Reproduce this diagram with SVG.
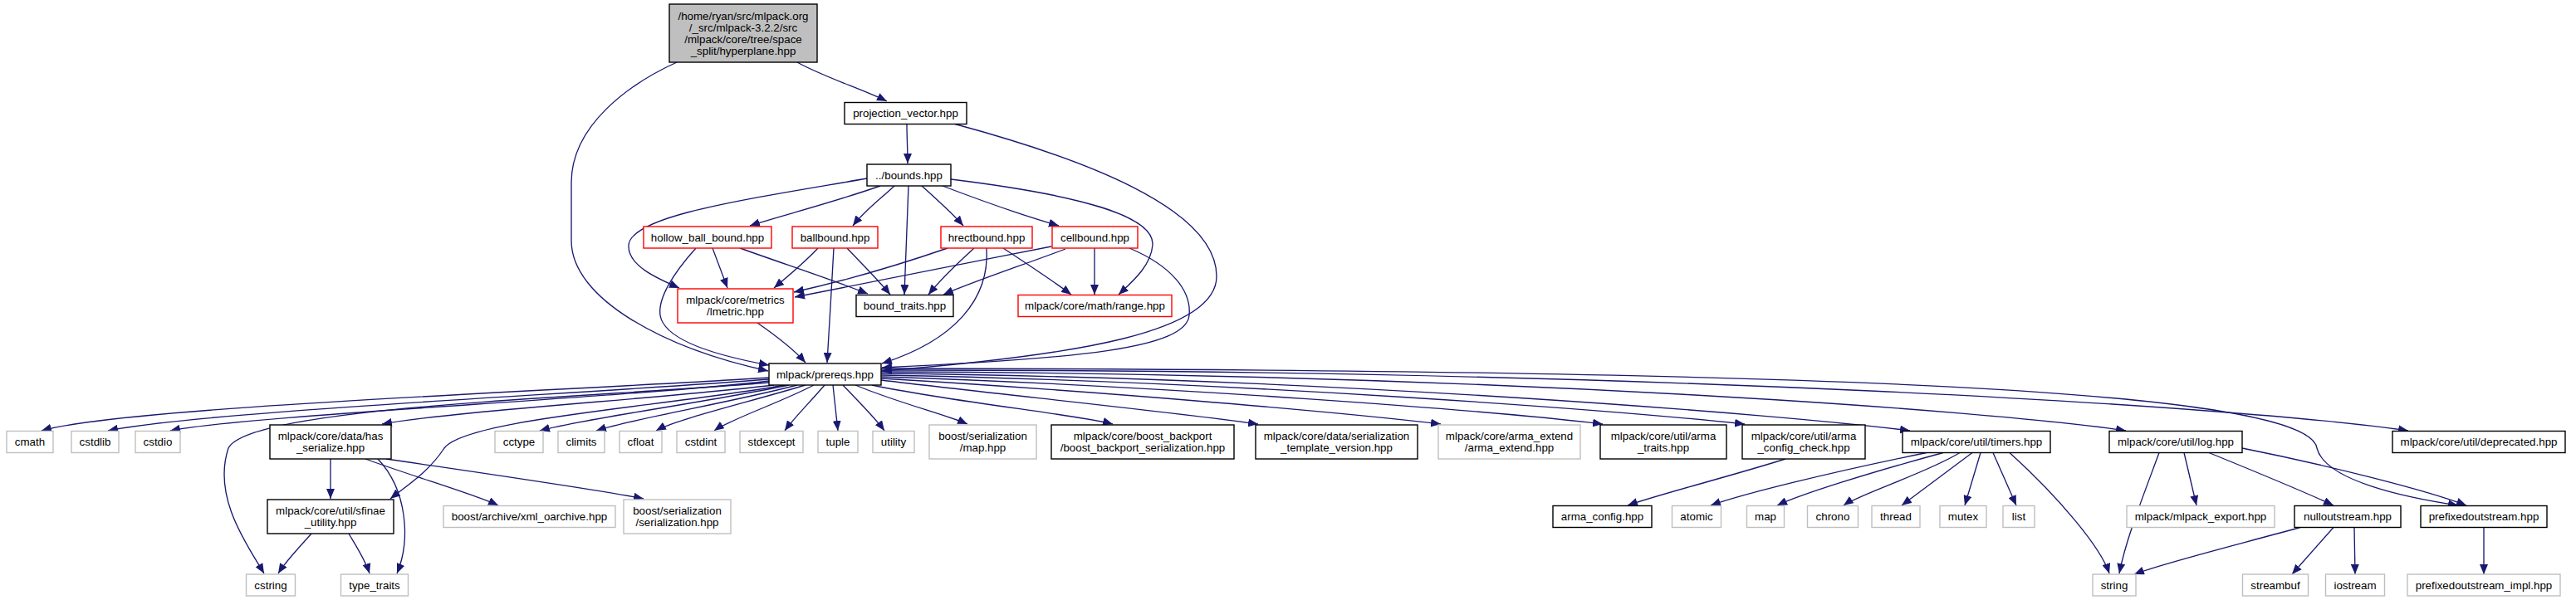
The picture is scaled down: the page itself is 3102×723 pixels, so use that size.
<svg xmlns="http://www.w3.org/2000/svg" width="3102" height="723" viewBox="0 0 3102 723">
<defs>
<style>
rect{fill:#fff;stroke-width:1.4}
.blk rect{stroke:#000}
.red rect{stroke:#ff0000}
.gry rect{stroke:#bfbfbf}
.root rect{fill:#bfbfbf;stroke:#000}
text{font-family:"Liberation Sans",Arial,Helvetica,sans-serif;font-size:13.33px;text-anchor:middle;fill:#000}
.e path{fill:none;stroke:#191970;stroke-width:1.33;marker-end:url(#ah)}
</style>
<marker id="ah" markerUnits="userSpaceOnUse" markerWidth="13" markerHeight="10" refX="12" refY="5" orient="auto"><path d="M0,0 L12,5 L0,10 z" fill="#191970"/></marker>
</defs>
<rect x="0" y="0" width="3102" height="723" style="fill:#fff;stroke:none"/>
<g class="e" id="edges">
<path d="M960,75 C990,92 1040,108 1068,122"/>
<path d="M815,75 C760,100 688,150 688,220 L688,290 C688,360 800,420 925,447"/>
<path d="M1092,149.5 C1092,165 1093,180 1093,197"/>
<path d="M1150,149.5 C1300,190 1465,250 1465,333 C1465,400 1300,428 1062,447"/>
<path d="M1060,224 C1000,245 940,260 903,272"/>
<path d="M1077,224 C1060,240 1040,255 1027,272"/>
<path d="M1094,224 L1089,355"/>
<path d="M1110,224 C1130,242 1148,258 1160,272"/>
<path d="M1135,224 C1190,245 1240,262 1275,272"/>
<path d="M1044,215 C900,240 755,260 757,297 C757,320 790,335 818,347"/>
<path d="M1145,216 C1300,235 1390,260 1388,295 C1386,320 1365,338 1347,355"/>
<path d="M838,299 C810,330 792,360 795,380 C800,410 860,428 926,440"/>
<path d="M858,299 L876,347"/>
<path d="M891,299 C950,320 1010,340 1045,354"/>
<path d="M985,299 C970,315 950,332 932,347"/>
<path d="M1004,299 C1002,340 998,400 996,437"/>
<path d="M1020,299 C1040,320 1060,340 1072,355"/>
<path d="M1141,299 C1080,320 1010,340 956,352"/>
<path d="M1173,299 C1150,320 1130,340 1118,355"/>
<path d="M1188,299 C1192,360 1150,410 1062,438"/>
<path d="M1208,299 C1240,320 1270,340 1290,355"/>
<path d="M1266,297 C1150,320 1020,345 957,358"/>
<path d="M1283,300 C1230,320 1170,340 1136,355"/>
<path d="M1318,299 L1318,355"/>
<path d="M1360,299 C1410,320 1435,350 1432,380 C1428,420 1300,432 1062,443"/>
<path d="M912,389 C935,405 955,420 970,437"/>
<path d="M926,455 C700,470 150,490 50,519"/>
<path d="M926,457 C700,475 250,495 130,519"/>
<path d="M926,459 C750,480 300,500 205,519"/>
<path d="M926,461 C700,480 300,490 275,540 C255,600 300,660 318,691"/>
<path d="M932,464 C800,480 550,495 460,511"/>
<path d="M945,464 C800,490 560,505 535,540 C515,570 490,585 470,601"/>
<path d="M950,464 C850,485 700,505 650,519"/>
<path d="M960,464 C880,485 760,505 718,519"/>
<path d="M970,464 C900,485 815,505 790,519"/>
<path d="M980,464 C940,485 880,505 860,519"/>
<path d="M993,464 C975,485 955,505 945,519"/>
<path d="M1003,464 L1009,519"/>
<path d="M1015,464 C1035,485 1055,505 1065,519"/>
<path d="M1030,464 C1080,485 1140,500 1165,511"/>
<path d="M1050,464 C1150,485 1300,500 1340,511"/>
<path d="M1061,458 C1200,475 1400,495 1515,511"/>
<path d="M1061,456 C1300,470 1600,495 1735,511"/>
<path d="M1061,454 C1400,465 1800,495 1930,511"/>
<path d="M1061,452 C1500,460 1950,495 2101,511"/>
<path d="M1061,450 C1600,455 2150,500 2300,519"/>
<path d="M1061,448 C1800,450 2400,495 2560,519"/>
<path d="M1061,446 C2000,445 2700,490 2900,519"/>
<path d="M1061,444 C2200,445 2780,470 2790,540 C2800,580 2900,600 2960,609"/>
<path d="M398,553 L398,601"/>
<path d="M440,553 C500,575 570,595 600,609"/>
<path d="M465,553 C580,570 720,590 775,601"/>
<path d="M455,553 C490,590 495,650 478,691"/>
<path d="M375,643 C360,660 345,675 335,691"/>
<path d="M420,643 C430,660 440,675 445,691"/>
<path d="M2150,553 C2080,575 2000,595 1960,609"/>
<path d="M2320,545.5 C2200,570 2100,595 2060,609"/>
<path d="M2340,545.5 C2250,570 2170,595 2140,609"/>
<path d="M2360,545.5 C2320,570 2240,595 2220,609"/>
<path d="M2375,545.5 L2290,609"/>
<path d="M2385,545.5 L2366,609"/>
<path d="M2400,545.5 L2428,609"/>
<path d="M2420,545.5 C2480,600 2530,660 2540,691"/>
<path d="M2600,545.5 C2580,600 2560,650 2552,691"/>
<path d="M2630,545.5 L2645,609"/>
<path d="M2660,545.5 C2720,570 2780,595 2810,609"/>
<path d="M2700,540 C2800,560 2920,590 2970,609"/>
<path d="M2770,635.5 C2680,660 2600,680 2570,692"/>
<path d="M2810,635.5 L2760,692"/>
<path d="M2835,635.5 L2836,692"/>
<path d="M2991,635.5 L2991,692"/>
</g>
<g id="n_root" class="root"><rect x="806" y="5" width="178" height="70"/><text x="895" y="23.5">/home/ryan/src/mlpack.org</text><text x="895" y="37.5">/_src/mlpack-3.2.2/src</text><text x="895" y="51.5">/mlpack/core/tree/space</text><text x="895" y="65.5">_split/hyperplane.hpp</text></g>
<g id="n_projection_vector" class="blk"><rect x="1017" y="123.5" width="147" height="26"/><text x="1090.5" y="141">projection_vector.hpp</text></g>
<g id="n_bounds" class="blk"><rect x="1044" y="198" width="101" height="26"/><text x="1094.5" y="215.5">../bounds.hpp</text></g>
<g id="n_hollow" class="red"><rect x="775" y="273" width="154" height="26"/><text x="852" y="290.5">hollow_ball_bound.hpp</text></g>
<g id="n_ballbound" class="red"><rect x="954" y="273" width="103" height="26"/><text x="1005.5" y="290.5">ballbound.hpp</text></g>
<g id="n_hrect" class="red"><rect x="1133" y="273" width="110" height="26"/><text x="1188" y="290.5">hrectbound.hpp</text></g>
<g id="n_cellbound" class="red"><rect x="1267" y="273" width="103" height="26"/><text x="1318.5" y="290.5">cellbound.hpp</text></g>
<g id="n_lmetric" class="red"><rect x="816" y="348" width="139" height="41"/><text x="885.5" y="366">mlpack/core/metrics</text><text x="885.5" y="380">/lmetric.hpp</text></g>
<g id="n_bound_traits" class="blk"><rect x="1031" y="355.5" width="117" height="26"/><text x="1089.5" y="373">bound_traits.hpp</text></g>
<g id="n_range" class="red"><rect x="1226" y="355.5" width="185" height="26"/><text x="1318.5" y="373">mlpack/core/math/range.hpp</text></g>
<g id="n_prereqs" class="blk"><rect x="926" y="438" width="135" height="26"/><text x="993.5" y="455.5">mlpack/prereqs.hpp</text></g>
<g id="n_cmath" class="gry"><rect x="8" y="519.5" width="56" height="26"/><text x="36" y="537">cmath</text></g>
<g id="n_cstdlib" class="gry"><rect x="86" y="519.5" width="57" height="26"/><text x="114.5" y="537">cstdlib</text></g>
<g id="n_cstdio" class="gry"><rect x="163" y="519.5" width="54" height="26"/><text x="190" y="537">cstdio</text></g>
<g id="n_has_serialize" class="blk"><rect x="325" y="512" width="146" height="41"/><text x="398" y="530">mlpack/core/data/has</text><text x="398" y="544">_serialize.hpp</text></g>
<g id="n_cctype" class="gry"><rect x="596" y="519.5" width="58" height="26"/><text x="625" y="537">cctype</text></g>
<g id="n_climits" class="gry"><rect x="672" y="519.5" width="56" height="26"/><text x="700" y="537">climits</text></g>
<g id="n_cfloat" class="gry"><rect x="746" y="519.5" width="51" height="26"/><text x="771.5" y="537">cfloat</text></g>
<g id="n_cstdint" class="gry"><rect x="815" y="519.5" width="58" height="26"/><text x="844" y="537">cstdint</text></g>
<g id="n_stdexcept" class="gry"><rect x="891" y="519.5" width="76" height="26"/><text x="929" y="537">stdexcept</text></g>
<g id="n_tuple" class="gry"><rect x="985" y="519.5" width="48" height="26"/><text x="1009" y="537">tuple</text></g>
<g id="n_utility" class="gry"><rect x="1051" y="519.5" width="50" height="26"/><text x="1076" y="537">utility</text></g>
<g id="n_ser_map" class="gry"><rect x="1119" y="512" width="129" height="41"/><text x="1183.5" y="530">boost/serialization</text><text x="1183.5" y="544">/map.hpp</text></g>
<g id="n_backport" class="blk"><rect x="1266" y="512" width="220" height="41"/><text x="1376" y="530">mlpack/core/boost_backport</text><text x="1376" y="544">/boost_backport_serialization.hpp</text></g>
<g id="n_ser_tmpl" class="blk"><rect x="1512" y="512" width="195" height="41"/><text x="1609.5" y="530">mlpack/core/data/serialization</text><text x="1609.5" y="544">_template_version.hpp</text></g>
<g id="n_arma_extend" class="gry"><rect x="1732" y="512" width="171" height="41"/><text x="1817.5" y="530">mlpack/core/arma_extend</text><text x="1817.5" y="544">/arma_extend.hpp</text></g>
<g id="n_arma_traits" class="blk"><rect x="1927" y="512" width="152" height="41"/><text x="2003" y="530">mlpack/core/util/arma</text><text x="2003" y="544">_traits.hpp</text></g>
<g id="n_cfg_check" class="blk"><rect x="2098" y="512" width="148" height="41"/><text x="2172" y="530">mlpack/core/util/arma</text><text x="2172" y="544">_config_check.hpp</text></g>
<g id="n_timers" class="blk"><rect x="2291" y="519.5" width="178" height="26"/><text x="2380" y="537">mlpack/core/util/timers.hpp</text></g>
<g id="n_log" class="blk"><rect x="2540" y="519.5" width="160" height="26"/><text x="2620" y="537">mlpack/core/util/log.hpp</text></g>
<g id="n_deprecated" class="blk"><rect x="2881" y="519.5" width="208" height="26"/><text x="2985" y="537">mlpack/core/util/deprecated.hpp</text></g>
<g id="n_sfinae" class="blk"><rect x="322" y="602" width="152" height="41"/><text x="398" y="620">mlpack/core/util/sfinae</text><text x="398" y="634">_utility.hpp</text></g>
<g id="n_xml" class="gry"><rect x="534" y="609.5" width="207" height="26"/><text x="637.5" y="627">boost/archive/xml_oarchive.hpp</text></g>
<g id="n_ser_ser" class="gry"><rect x="751" y="602" width="129" height="41"/><text x="815.5" y="620">boost/serialization</text><text x="815.5" y="634">/serialization.hpp</text></g>
<g id="n_arma_config" class="blk"><rect x="1870" y="609.5" width="119" height="26"/><text x="1929.5" y="627">arma_config.hpp</text></g>
<g id="n_atomic" class="gry"><rect x="2013.5" y="609.5" width="59" height="26"/><text x="2043" y="627">atomic</text></g>
<g id="n_map" class="gry"><rect x="2103.5" y="609.5" width="45" height="26"/><text x="2126" y="627">map</text></g>
<g id="n_chrono" class="gry"><rect x="2176.5" y="609.5" width="61" height="26"/><text x="2207" y="627">chrono</text></g>
<g id="n_thread" class="gry"><rect x="2254" y="609.5" width="58" height="26"/><text x="2283" y="627">thread</text></g>
<g id="n_mutex" class="gry"><rect x="2336" y="609.5" width="56" height="26"/><text x="2364" y="627">mutex</text></g>
<g id="n_list" class="gry"><rect x="2412" y="609.5" width="38" height="26"/><text x="2431" y="627">list</text></g>
<g id="n_export" class="gry"><rect x="2561" y="609.5" width="178" height="26"/><text x="2650" y="627">mlpack/mlpack_export.hpp</text></g>
<g id="n_null" class="blk"><rect x="2763" y="609.5" width="128" height="26"/><text x="2827" y="627">nulloutstream.hpp</text></g>
<g id="n_prefixed" class="blk"><rect x="2915" y="609.5" width="152" height="26"/><text x="2991" y="627">prefixedoutstream.hpp</text></g>
<g id="n_cstring" class="gry"><rect x="296.5" y="692" width="59" height="26"/><text x="326" y="709.5">cstring</text></g>
<g id="n_type_traits" class="gry"><rect x="410.5" y="692" width="81" height="26"/><text x="451" y="709.5">type_traits</text></g>
<g id="n_string" class="gry"><rect x="2520" y="692" width="52" height="26"/><text x="2546" y="709.5">string</text></g>
<g id="n_streambuf" class="gry"><rect x="2700.5" y="692" width="79" height="26"/><text x="2740" y="709.5">streambuf</text></g>
<g id="n_iostream" class="gry"><rect x="2800.5" y="692" width="71" height="26"/><text x="2836" y="709.5">iostream</text></g>
<g id="n_impl" class="gry"><rect x="2899" y="692" width="184" height="26"/><text x="2991" y="709.5">prefixedoutstream_impl.hpp</text></g>
</svg>
